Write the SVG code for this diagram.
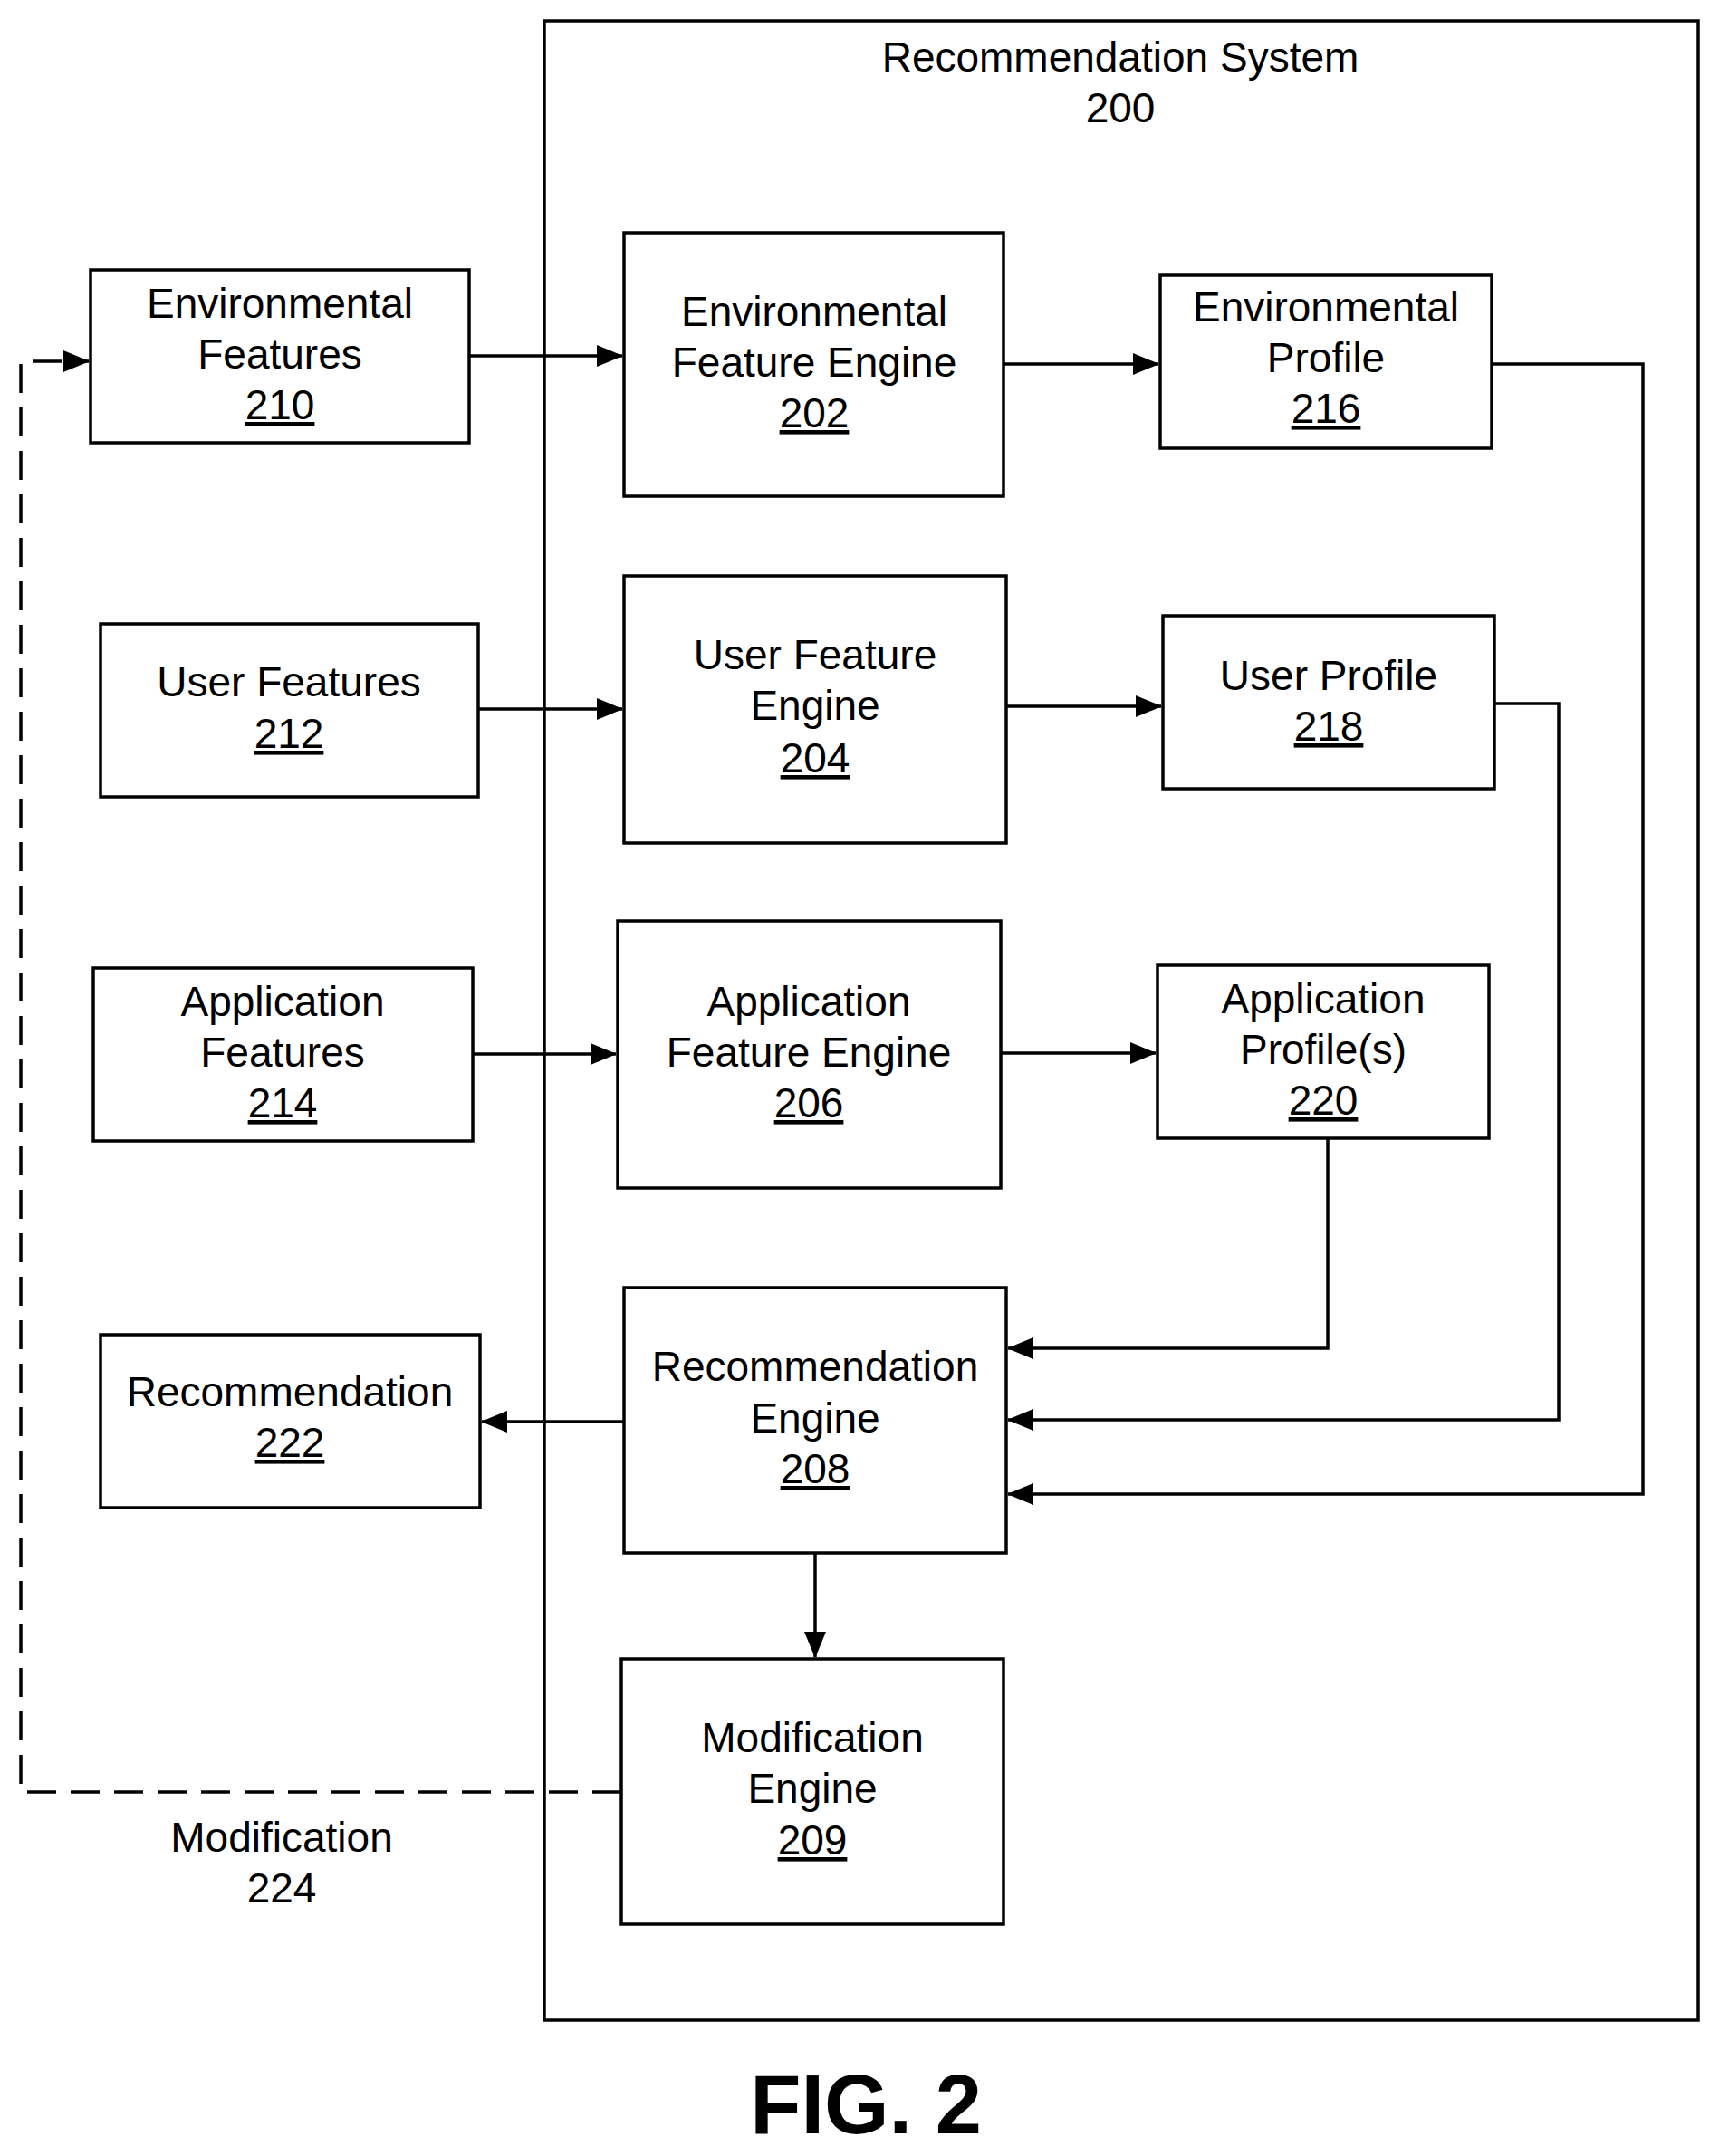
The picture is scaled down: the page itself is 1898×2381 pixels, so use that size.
<svg xmlns="http://www.w3.org/2000/svg" width="1898" height="2381" viewBox="0 0 1898 2381">
<style>
.b{fill:#fff;stroke:#000;stroke-width:3.5}
text{font-family:"Liberation Sans",Arial,sans-serif;font-size:46px;text-anchor:middle;fill:#000}
.u{text-decoration:underline}
.c{fill:none;stroke:#000;stroke-width:3.5}
.d{stroke-dasharray:32,16}
</style>
<defs>
<marker id="a" markerUnits="userSpaceOnUse" markerWidth="30" markerHeight="24" refX="28" refY="12" orient="auto"><path d="M0,0 L29,12 L0,24 Z" fill="#000"/></marker>
</defs>
<rect width="1898" height="2381" fill="#fff"/>
<g id="system"><rect class="b" x="601" y="23" width="1274" height="2208"/><text x="1237" y="79">Recommendation System</text><text x="1237" y="135">200</text></g>
<g id="n210"><rect class="b" x="100" y="298" width="418" height="191"/><text x="309" y="351">Environmental</text><text x="309" y="407">Features</text><text class="u" x="309" y="463">210</text></g>
<g id="n202"><rect class="b" x="689" y="257" width="419" height="291"/><text x="899" y="360">Environmental</text><text x="899" y="416">Feature Engine</text><text class="u" x="899" y="472">202</text></g>
<g id="n216"><rect class="b" x="1281" y="304" width="366" height="191"/><text x="1464" y="355">Environmental</text><text x="1464" y="411">Profile</text><text class="u" x="1464" y="467">216</text></g>
<g id="n212"><rect class="b" x="111" y="689" width="417" height="191"/><text x="319" y="769">User Features</text><text class="u" x="319" y="826">212</text></g>
<g id="n204"><rect class="b" x="689" y="636" width="422" height="295"/><text x="900" y="739">User Feature</text><text x="900" y="795">Engine</text><text class="u" x="900" y="853">204</text></g>
<g id="n218"><rect class="b" x="1284" y="680" width="366" height="191"/><text x="1467" y="762">User Profile</text><text class="u" x="1467" y="818">218</text></g>
<g id="n214"><rect class="b" x="103" y="1069" width="419" height="191"/><text x="312" y="1122">Application</text><text x="312" y="1178">Features</text><text class="u" x="312" y="1234">214</text></g>
<g id="n206"><rect class="b" x="682" y="1017" width="423" height="295"/><text x="893" y="1122">Application</text><text x="893" y="1178">Feature Engine</text><text class="u" x="893" y="1234">206</text></g>
<g id="n220"><rect class="b" x="1278" y="1066" width="366" height="191"/><text x="1461" y="1119">Application</text><text x="1461" y="1175">Profile(s)</text><text class="u" x="1461" y="1231">220</text></g>
<g id="n222"><rect class="b" x="111" y="1474" width="419" height="191"/><text x="320" y="1553">Recommendation</text><text class="u" x="320" y="1609">222</text></g>
<g id="n208"><rect class="b" x="689" y="1422" width="422" height="293"/><text x="900" y="1525">Recommendation</text><text x="900" y="1582">Engine</text><text class="u" x="900" y="1638">208</text></g>
<g id="n209"><rect class="b" x="686" y="1832" width="422" height="293"/><text x="897" y="1935">Modification</text><text x="897" y="1991">Engine</text><text class="u" x="897" y="2048">209</text></g>
<g id="l224"><text x="311" y="2045">Modification</text><text x="311" y="2101">224</text></g>
<g id="connectors">
<path class="c" d="M518,393 H687" marker-end="url(#a)"/>
<path class="c" d="M528,783 H687" marker-end="url(#a)"/>
<path class="c" d="M522,1164 H680" marker-end="url(#a)"/>
<path class="c" d="M1108,402 H1279" marker-end="url(#a)"/>
<path class="c" d="M1111,780 H1282" marker-end="url(#a)"/>
<path class="c" d="M1105,1163 H1276" marker-end="url(#a)"/>
<path class="c" d="M1647,402 H1814 V1650 H1113" marker-end="url(#a)"/>
<path class="c" d="M1650,777 H1721 V1568 H1113" marker-end="url(#a)"/>
<path class="c" d="M1466,1257 V1489 H1113" marker-end="url(#a)"/>
<path class="c" d="M689,1570 H532" marker-end="url(#a)"/>
<path class="c" d="M900,1715 V1830" marker-end="url(#a)"/>
<path class="c d" d="M686,1979 H23 V399 H98" marker-end="url(#a)"/>
</g>
<text x="956" y="2356" style="font-size:92px;font-weight:bold">FIG. 2</text>
</svg>
